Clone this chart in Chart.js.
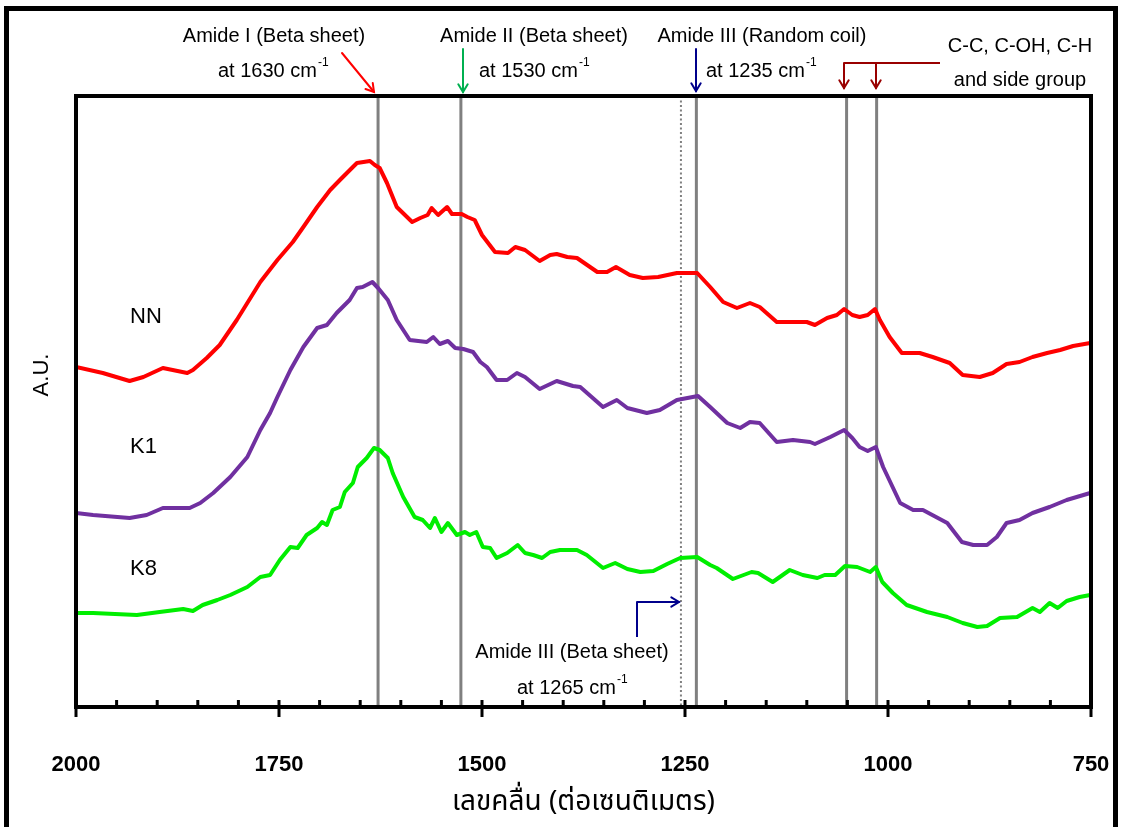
<!DOCTYPE html>
<html>
<head>
<meta charset="utf-8">
<script src="https://cdn.jsdelivr.net/npm/chart.js@4.4.1/dist/chart.umd.min.js"></script>
<style>
  html, body { margin:0; padding:0; background:#fff; }
  #wrap { position:relative; width:1121px; height:827px; overflow:hidden; }
  canvas { position:absolute; left:0; top:0; }
  #frame { position:absolute; left:4px; top:6px; width:1104px; height:900px; border:5px solid #000; pointer-events:none; }
</style>
</head>
<body>
<div id="wrap">
  <canvas id="c" width="1121" height="827"></canvas>
  <div id="frame"></div>
</div>
<script>
// ---- data (wavenumber in cm-1, intensity in arbitrary units) ----
const xTicks = [2000, 1750, 1500, 1250, 1000, 750];
const seriesNames = ['NN', 'K1', 'K8'];

const nnWave = [2000,1967,1934,1917,1893,1863,1856,1839,1823,1802,1773,1752,1733,1720,1703,1687,1675,1659,1654,1638,1632,1626,1617,1605,1586,1576,1567,1562,1554,1543,1537,1525,1518,1509,1500,1484,1468,1459,1447,1429,1416,1408,1395,1383,1358,1346,1335,1318,1302,1283,1260,1235,1219,1203,1186,1170,1158,1137,1100,1090,1075,1063,1054,1044,1035,1025,1016,1010,998,983,961,945,924,908,887,871,854,838,822,804,788,772,751];
const nnAU = [340,334,326,330,339,334,337,349,362,387,425,447,465,480,500,517,527,540,544,546,542,539,524,500,485,489,492,499,492,500,493,493,490,487,472,455,454,460,457,446,452,453,450,449,435,435,440,432,429,430,434,434,420,405,399,404,400,385,385,382,389,392,398,392,390,392,398,387,370,354,354,350,344,332,330,334,343,345,350,354,357,361,364];

const k1Wave = [2000,1979,1934,1913,1893,1860,1847,1831,1810,1789,1773,1761,1752,1736,1720,1703,1691,1679,1663,1654,1647,1635,1628,1616,1605,1589,1568,1560,1552,1542,1533,1523,1511,1502,1494,1482,1469,1457,1447,1429,1408,1388,1379,1351,1334,1321,1297,1281,1260,1234,1219,1198,1182,1170,1158,1137,1117,1096,1090,1071,1054,1044,1035,1025,1015,1006,985,969,957,927,909,895,878,866,854,838,822,801,780,751];
const k1AU = [194,192,189,192,199,199,204,214,230,250,277,294,310,337,360,379,382,394,407,419,420,425,419,407,387,367,365,370,363,366,359,358,355,345,340,327,327,334,330,318,326,321,320,300,307,299,294,297,307,311,300,284,279,285,284,265,267,265,263,270,277,269,260,256,260,240,204,197,197,184,165,162,162,170,184,187,194,200,207,214];

const k8Wave = [2000,1979,1925,1897,1868,1856,1844,1826,1810,1789,1773,1761,1749,1736,1727,1716,1703,1697,1691,1684,1675,1669,1659,1653,1642,1633,1626,1616,1610,1597,1583,1573,1564,1558,1550,1542,1531,1521,1515,1507,1499,1490,1482,1469,1456,1447,1437,1426,1416,1404,1383,1371,1351,1336,1321,1305,1289,1272,1256,1235,1219,1211,1191,1168,1160,1142,1121,1105,1087,1078,1065,1053,1038,1022,1015,1007,994,977,952,927,908,890,878,862,841,822,813,801,791,780,764,751];
const k8AU = [94,94,92,95,98,96,102,107,112,120,130,132,147,160,159,172,179,185,182,197,200,215,224,240,249,259,257,249,234,210,190,187,179,189,175,184,172,175,172,175,160,159,149,154,162,154,152,149,155,157,157,152,139,144,138,135,136,143,149,150,142,139,128,135,134,125,137,132,129,132,132,141,140,135,140,125,114,102,95,90,84,80,81,89,90,99,95,104,99,106,110,112];

// band marker positions (cm-1)
const markerLines = [1628, 1526, 1236, 1051, 1014];
const dottedLines = [1255];

// ---- helpers ----
const pts = (xs, ys) => xs.map((v, i) => ({ x: v, y: ys[i] }));
const F = '"Liberation Sans", Arial, sans-serif';

function seg(ctx, x1, y1, x2, y2) { ctx.beginPath(); ctx.moveTo(x1, y1); ctx.lineTo(x2, y2); ctx.stroke(); }
function arrow(ctx, x1, y1, x2, y2, color) {
  ctx.save();
  ctx.strokeStyle = color; ctx.lineWidth = 2; ctx.lineCap = 'round';
  seg(ctx, x1, y1, x2, y2);
  const ang = Math.atan2(y2 - y1, x2 - x1), L = 9, w = 0.55;
  ctx.beginPath();
  ctx.moveTo(x2 - L * Math.cos(ang - w), y2 - L * Math.sin(ang - w));
  ctx.lineTo(x2, y2);
  ctx.lineTo(x2 - L * Math.cos(ang + w), y2 - L * Math.sin(ang + w));
  ctx.stroke();
  ctx.restore();
}
function supText(ctx, txt, sup, x, y) {
  ctx.font = '20px ' + F; ctx.textAlign = 'left'; ctx.textBaseline = 'middle';
  ctx.fillText(txt, x, y);
  const w = ctx.measureText(txt).width;
  ctx.font = '12px ' + F;
  ctx.fillText(sup, x + w + 1, y - 8);
}
function cText(ctx, txt, x, y, size) {
  ctx.font = (size || 20) + 'px ' + F; ctx.textAlign = 'center'; ctx.textBaseline = 'middle';
  ctx.fillText(txt, x, y);
}

const decor = {
  id: 'decor',
  beforeDatasetsDraw(chart) {
    const { ctx, chartArea: a, scales: { x } } = chart;
    ctx.save();
    ctx.strokeStyle = '#808080'; ctx.lineWidth = 3;
    markerLines.forEach(v => { const p = x.getPixelForValue(v); seg(ctx, p, a.top, p, a.bottom); });
    ctx.lineWidth = 2; ctx.setLineDash([2, 2.5]);
    dottedLines.forEach(v => { const p = x.getPixelForValue(v); seg(ctx, p, a.top, p, a.bottom); });
    ctx.restore();
  },
  afterDraw(chart) {
    const { ctx, chartArea: a, scales: { x } } = chart;
    ctx.save();
    // plot box
    ctx.strokeStyle = '#000'; ctx.lineWidth = 4;
    ctx.strokeRect(a.left, a.top, a.right - a.left, a.bottom - a.top);
    // ticks: minor every 50 (inside), major every 250 (crossing)
    ctx.lineWidth = 3;
    for (let v = 750; v <= 2000; v += 50) {
      const p = x.getPixelForValue(v);
      if (v % 250 === 0) seg(ctx, p, a.bottom - 7, p, a.bottom + 10);
      else seg(ctx, p, a.bottom - 7, p, a.bottom);
    }
    // series labels
    ctx.fillStyle = '#000';
    ctx.font = '22px ' + F; ctx.textAlign = 'left'; ctx.textBaseline = 'middle';
    ctx.fillText(seriesNames[0], 130, 317);
    ctx.fillText(seriesNames[1], 130, 447);
    ctx.fillText(seriesNames[2], 130, 569);
    // y title
    ctx.save();
    ctx.translate(42, 375); ctx.rotate(-Math.PI / 2);
    cText(ctx, 'A.U.', 0, 0, 22);
    ctx.restore();
    // top annotations
    cText(ctx, 'Amide I (Beta sheet)', 274, 36);
    supText(ctx, 'at 1630 cm', '-1', 218, 71);
    cText(ctx, 'Amide II (Beta sheet)', 534, 36);
    supText(ctx, 'at 1530 cm', '-1', 479, 71);
    cText(ctx, 'Amide III (Random coil)', 762, 36);
    supText(ctx, 'at 1235 cm', '-1', 706, 71);
    cText(ctx, 'C-C, C-OH, C-H', 1020, 46);
    cText(ctx, 'and side group', 1020, 80);
    cText(ctx, 'Amide III (Beta sheet)', 572, 652);
    supText(ctx, 'at 1265 cm', '-1', 517, 688);
    // arrows
    arrow(ctx, 342, 53, 374, 92, '#ff0000');
    arrow(ctx, 463, 49, 463, 92, '#00b050');
    arrow(ctx, 696, 49, 696, 91, '#00008b');
    ctx.strokeStyle = '#990000'; ctx.lineWidth = 2;
    seg(ctx, 844, 63, 940, 63);
    arrow(ctx, 844, 63, 844, 88, '#990000');
    arrow(ctx, 876, 63, 876, 88, '#990000');
    // bent arrow for 1265
    ctx.strokeStyle = '#00008b'; ctx.lineWidth = 2;
    seg(ctx, 637, 637, 637, 602);
    arrow(ctx, 637, 602, 679, 602, '#00008b');
    ctx.restore();
  }
};

new Chart(document.getElementById('c'), {
  type: 'line',
  data: {
    datasets: [
      { label: seriesNames[0], data: pts(nnWave, nnAU), borderColor: '#ff0000' },
      { label: seriesNames[1], data: pts(k1Wave, k1AU), borderColor: '#7030a0' },
      { label: seriesNames[2], data: pts(k8Wave, k8AU), borderColor: '#00ee00' }
    ]
  },
  options: {
    responsive: false,
    animation: false,
    events: [],
    layout: { padding: { left: 76, right: 30, top: 96, bottom: 0 } },
    elements: {
      line: { borderWidth: 4, tension: 0, borderJoinStyle: 'round', borderCapStyle: 'round' },
      point: { radius: 0 }
    },
    plugins: { legend: { display: false }, tooltip: { enabled: false } },
    scales: {
      x: {
        type: 'linear', reverse: true, min: 750, max: 2000,
        afterBuildTicks: s => { s.ticks = xTicks.map(v => ({ value: v })); },
        afterFit: s => { s.height = 120; s.paddingLeft = 0; s.paddingRight = 0; },
        grid: { display: false, drawTicks: false },
        border: { display: false },
        ticks: { color: '#000', padding: 45, maxRotation: 0, autoSkip: false,
                 callback: v => String(v),
                 font: { family: F, size: 22, weight: 'bold' } },
        title: { display: true, text: 'เลขคลื่น (ต่อเซนติเมตร)', color: '#000',
                 font: { family: '"Noto Sans Thai", "Noto Serif Thai", Loma, Garuda, "Noto Sans", sans-serif', size: 28 },
                 padding: { top: 0, bottom: 6 } }
      },
      y: { display: false, min: 0, max: 611 }
    }
  },
  plugins: [decor]
});
</script>
</body>
</html>
